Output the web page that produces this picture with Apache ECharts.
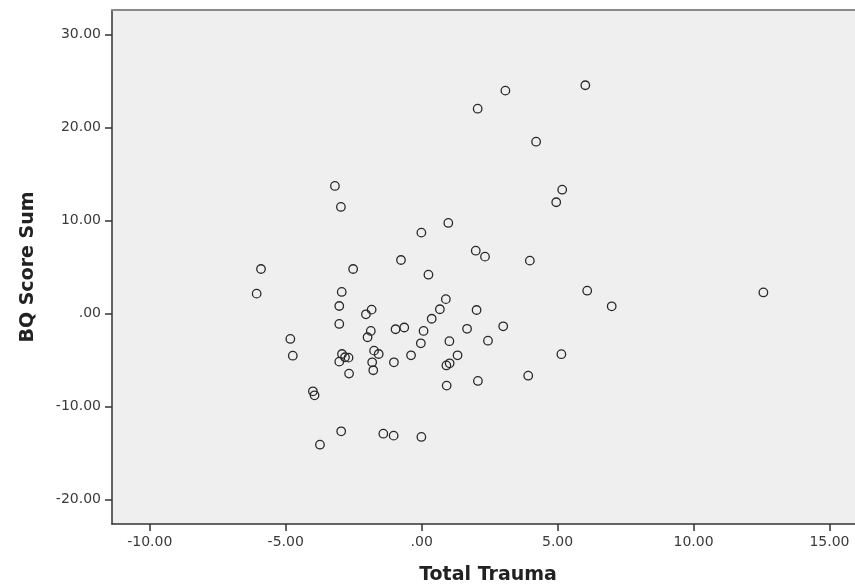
<!DOCTYPE html>
<html>
<head>
<meta charset="utf-8">
<script src="https://cdn.jsdelivr.net/npm/echarts@6/dist/echarts.min.js"></script>
<style>
  html, body { margin: 0; padding: 0; background: #ffffff; }
  #chart { width: 855px; height: 587px; }
</style>
</head>
<body>
<div id="chart"></div>
<script>
// Data (Total Trauma vs BQ Score Sum)
const totalTrauma = [
  6.02, 3.08, 2.06, 4.21, -3.19, 5.17, 4.95, -2.97, 0.98, -0.01,
  1.99, 2.33, -0.76, 3.98, -5.91, -2.52, 0.25, -6.07, -2.94, 6.09,
  12.57, 6.99, -3.03, -1.84, -2.05, 0.89, 0.67, 2.02, 0.37, -3.03,
  -1.87, -1.99, -0.96, -0.64, 0.07, -0.03, 1.67, 3.00, 1.02, 2.44,
  1.32, 0.91, 1.03, 0.92, 2.07, 5.14, 3.92, -4.83, -4.74, -2.93,
  -3.03, -2.82, -2.69, -2.67, -1.75, -1.58, -1.82, -1.78, -1.02, -0.39,
  -4.00, -3.94, -2.96, -1.41, -1.03, -0.01, -3.74
];
const bqScoreSum = [
  24.52, 23.94, 22.00, 18.45, 13.69, 13.29, 11.94, 11.43, 9.71, 8.67,
  6.73, 6.09, 5.73, 5.66, 4.76, 4.76, 4.15, 2.11, 2.29, 2.43,
  2.24, 0.75, 0.78, 0.39, -0.11, 1.52, 0.43, 0.35, -0.59, -1.15,
  -1.90, -2.58, -1.72, -1.53, -1.90, -3.23, -1.67, -1.40, -3.00, -2.95,
  -4.52, -5.61, -5.38, -7.78, -7.28, -4.40, -6.71, -2.76, -4.56, -4.38,
  -5.20, -4.73, -4.77, -6.49, -4.02, -4.38, -5.27, -6.13, -5.27, -4.52,
  -8.39, -8.82, -12.69, -12.95, -13.16, -13.30, -14.13
];
const xTicks = [-10, -5, 0, 5, 10, 15];
const yTicks = [-20, -10, 0, 10, 20, 30];
const xTitle = 'Total Trauma';
const yTitle = 'BQ Score Sum';

const points = totalTrauma.map((x, i) => [x, bqScoreSum[i]]);

function fmt(v) {
  let s = Math.abs(v).toFixed(2);
  if (s.charAt(0) === '0') s = s.slice(1);
  return (v < 0 ? '-' : '') + s;
}

const labelStyle = { fontFamily: 'DejaVu Sans', fontSize: 14, color: '#3a3a3a' };

const chart = echarts.init(document.getElementById('chart'), null, { renderer: 'canvas' });
chart.setOption({
  animation: false,
  backgroundColor: '#ffffff',
  grid: {
    left: 112, right: 0, top: 10, bottom: 63,
    show: true, backgroundColor: '#efefef', borderWidth: 0
  },
  xAxis: [{
    type: 'value', min: -11.39, max: 15.94,
    splitLine: { show: false },
    axisLine: { show: true, onZero: false, lineStyle: { color: '#333333', width: 1.5 } },
    axisTick: { show: true, length: 7, customValues: xTicks, lineStyle: { color: '#333333', width: 1.5 } },
    axisLabel: Object.assign({ customValues: xTicks, margin: 11, formatter: fmt }, labelStyle)
  }, {
    type: 'value', position: 'top', min: -11.39, max: 15.94,
    splitLine: { show: false },
    axisLine: { show: true, onZero: false, lineStyle: { color: '#8a8a8a', width: 2 } },
    axisTick: { show: false }, axisLabel: { show: false }
  }],
  yAxis: {
    type: 'value', min: -22.66, max: 32.61,
    splitLine: { show: false },
    axisLine: { show: true, onZero: false, lineStyle: { color: '#333333', width: 1.5 } },
    axisTick: { show: true, length: 7, customValues: yTicks, lineStyle: { color: '#333333', width: 1.5 } },
    axisLabel: Object.assign({ customValues: yTicks, margin: 11, formatter: fmt }, labelStyle)
  },
  series: [{
    type: 'scatter',
    xAxisIndex: 0,
    data: points,
    symbol: 'circle',
    symbolSize: 8.5,
    itemStyle: { color: 'rgba(0,0,0,0)', borderColor: '#2a2a2a', borderWidth: 1.3, opacity: 1 },
    emphasis: { disabled: true }
  }],
  graphic: [{
    type: 'text', x: 488, y: 575,
    style: { text: xTitle, fontFamily: 'DejaVu Sans', fontWeight: 'bold', fontSize: 19, fill: '#222222', align: 'center', verticalAlign: 'middle' }
  }, {
    type: 'text', x: 28, y: 267, rotation: Math.PI / 2,
    style: { text: yTitle, fontFamily: 'DejaVu Sans', fontWeight: 'bold', fontSize: 19, fill: '#222222', align: 'center', verticalAlign: 'middle' }
  }]
});
</script>
</body>
</html>
